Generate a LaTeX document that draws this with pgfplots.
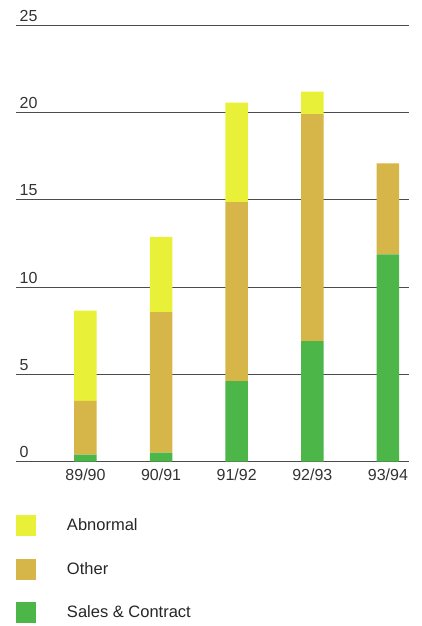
\documentclass[border=0pt]{standalone}
\usepackage{fontspec}
\setmainfont{Liberation Sans}
\usepackage{pgfplots}
\pgfplotsset{compat=1.18}

\definecolor{abnormal}{RGB}{232,240,56}
\definecolor{other}{RGB}{214,182,72}
\definecolor{sales}{RGB}{76,182,72}

\begin{document}
\begin{tikzpicture}
  \begin{axis}[
    scale only axis,
    width=393pt, height=436.5pt,
    ybar stacked,
    bar width=22.5pt,
    xmin=-0.919, xmax=4.279,
    ymin=0, ymax=25,
    xtick={0,1,2,3,4},
    xticklabels={89/90, 90/91, 91/92, 92/93, 93/94},
    ytick={0,5,10,15,20,25},
    ymajorgrids,
    major grid style={black!70, line width=0.8pt},
    axis line style={draw=none},
    major tick length=0pt,
    tick style={draw=none},
    /pgf/number format/assume math mode=true,
    tick label style={font=\fontsize{16}{19}\selectfont, text=black!80},
    yticklabel style={anchor=south west, inner sep=0pt, xshift=3.5pt, yshift=3.5pt},
    xticklabel style={anchor=north, inner sep=0pt, yshift=-7pt},
    reverse legend,
    legend style={
      at={(0,-0.1221)}, anchor=north west,
      draw=none, fill=none, inner sep=0pt, outer sep=0pt,
      row sep=22.5pt,
      font=\fontsize{16.5}{19}\selectfont,
      text=black!85,
      nodes={inner sep=0pt},
    },
    legend cell align=left,
    % square plus blank room up to where the text starts
    legend image code/.code={
      \fill[#1] (0pt,-10.5pt) rectangle (20pt,10.5pt);
      \path[draw=none, fill=none] (0pt,0pt) rectangle (51pt,0.1pt);
    },
  ]
    % Sales & Contract (bottom)
    \addplot[fill=sales, draw=none] coordinates {
      (0, 0.40) (1, 0.52) (2, 4.62) (3, 6.91) (4, 11.88)
    };
    \addlegendentry{Sales \& Contract}
    % Other
    \addplot[fill=other, draw=none] coordinates {
      (0, 3.09) (1, 8.05) (2, 10.25) (3, 12.99) (4, 5.21)
    };
    \addlegendentry{Other}
    % Abnormal (top)
    \addplot[fill=abnormal, draw=none] coordinates {
      (0, 5.16) (1, 4.30) (2, 5.69) (3, 1.29) (4, 0)
    };
    \addlegendentry{Abnormal}
    \coordinate (o) at (rel axis cs:0,0);
  \end{axis}
  \pgfresetboundingbox
  \path[use as bounding box] ([xshift=-16pt,yshift=-164.3pt]o) rectangle ([xshift=406pt,yshift=461.7pt]o);
\end{tikzpicture}
\end{document}
